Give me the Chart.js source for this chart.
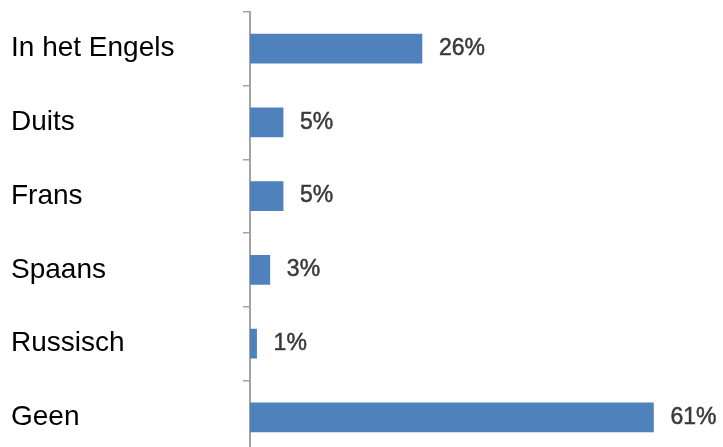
<!DOCTYPE html>
<html>
<head>
<meta charset="utf-8">
<script src="https://cdn.jsdelivr.net/npm/chart.js@4/dist/chart.umd.min.js"></script>
<style>
  html, body { margin: 0; padding: 0; background: #fff; overflow: hidden; }
  #wrap { position: absolute; left: 0; top: -8px; width: 723px; height: 482px; }
</style>
</head>
<body>
<div id="wrap"><canvas id="talen-chart" width="723" height="482"></canvas></div>
<script>
// languages spoken, share of respondents (%)
var languages = ['In het Engels', 'Duits', 'Frans', 'Spaans', 'Russisch', 'Geen'];
var shares = [26, 5, 5, 3, 1, 61];

var axisGrey = '#a3a3a3';

// prints "NN%" just right of each bar end
var valueLabels = {
  id: 'valueLabels',
  afterDatasetsDraw: function(chart) {
    var ctx = chart.ctx;
    var meta = chart.getDatasetMeta(0);
    ctx.save();
    ctx.font = '23px "Liberation Sans", Arial, sans-serif';
    ctx.fillStyle = '#3a3a3a';
    ctx.strokeStyle = '#3a3a3a';
    ctx.lineWidth = 0.5;
    ctx.textAlign = 'left';
    ctx.textBaseline = 'middle';
    meta.data.forEach(function(bar, i) {
      var txt = shares[i] + '%';
      ctx.fillText(txt, bar.x + 17, bar.y);
      ctx.strokeText(txt, bar.x + 17, bar.y);
    });
    ctx.restore();
  }
};

new Chart(document.getElementById('talen-chart'), {
  type: 'bar',
  data: {
    labels: languages,
    datasets: [{
      data: shares,
      backgroundColor: '#4f81bd',
      borderWidth: 0,
      barThickness: 29
    }]
  },
  options: {
    indexAxis: 'y',
    responsive: false,
    animation: false,
    layout: { padding: { left: 11, top: 11, right: 10, bottom: 15 } },
    plugins: {
      legend: { display: false },
      tooltip: { enabled: false }
    },
    scales: {
      x: {
        display: false,
        min: 0,
        max: 70
      },
      y: {
        afterFit: function(scale) { scale.width = 239; },
        border: { display: true, color: axisGrey, width: 2 },
        grid: {
          drawOnChartArea: false,
          drawTicks: true,
          tickLength: 7,
          color: axisGrey,
          lineWidth: 1.5
        },
        ticks: {
          crossAlign: 'far',
          color: '#000',
          font: { family: '"Liberation Sans", Arial, sans-serif', size: 28 }
        }
      }
    }
  },
  plugins: [valueLabels]
});
</script>
</body>
</html>
